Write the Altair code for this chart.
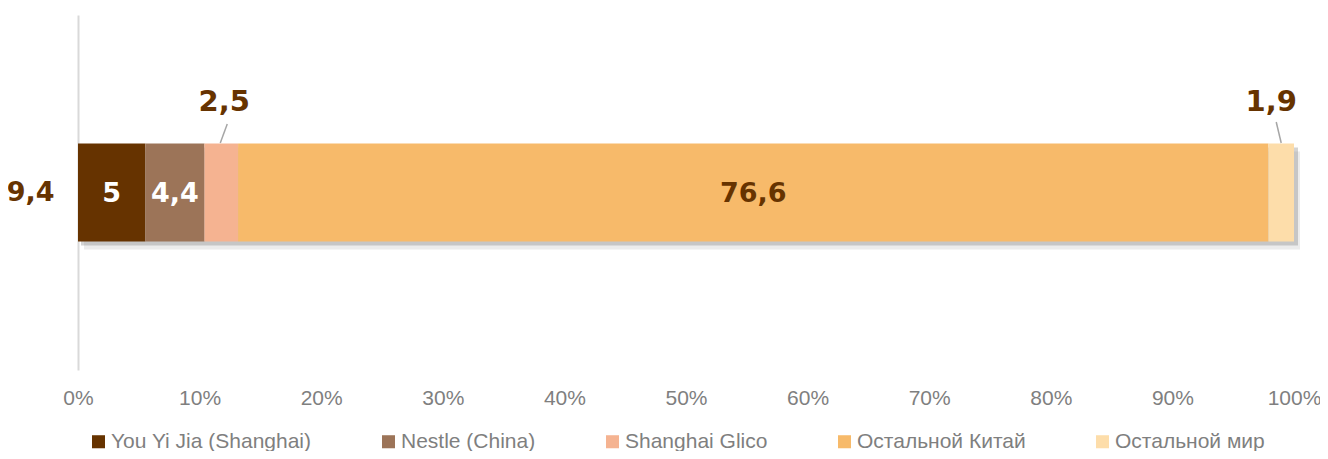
import altair as alt
import pandas as pd

categories = ["You Yi Jia (Shanghai)", "Nestle (China)", "Shanghai Glico", "Остальной Китай", "Остальной мир"]
values = [5.0, 4.4, 2.5, 76.6, 1.9]
labels = ["5", "4,4", "2,5", "76,6", "1,9"]
colors = ["#663300", "#9C7458", "#F5B391", "#F7BA6A", "#FDDDAA"]
row_label = "9,4"

df = pd.DataFrame({
    "cat": categories,
    "value": values,
    "label": labels,
    "order": list(range(len(categories))),
    "row": [row_label] * len(categories),
})

LABEL_FONT = "DejaVu Sans"
AXIS_FONT = "Liberation Sans"
BROWN = "#663300"

base = alt.Chart(df).transform_stack(
    stack="value", groupby=["row"], as_=["x0", "x1"], offset="normalize",
    sort=[alt.SortField("order", order="ascending")]
).transform_calculate(mid="(datum.x0 + datum.x1) / 2")

xscale = alt.Scale(domain=[0, 1], nice=False, zero=True)
yenc = alt.Y("row:N", title=None,
             axis=alt.Axis(domain=True, domainColor="#d9d9d9", domainWidth=2, ticks=False,
                           labelFont=LABEL_FONT, labelFontSize=27, labelFontWeight="bold",
                           labelColor=BROWN, labelPadding=24, grid=False))

agg = base.transform_aggregate(s0="min(x0)", s1="max(x1)", groupby=["row"])
shadow1 = agg.mark_bar(size=98, color="#808080", opacity=0.15, xOffset=6, x2Offset=6, yOffset=8).encode(
    x=alt.X("s0:Q", scale=xscale), x2="s1:Q", y=alt.Y("row:N"))
shadow2 = agg.mark_bar(size=98, color="#808080", opacity=0.35, xOffset=3, x2Offset=4, yOffset=4).encode(
    x=alt.X("s0:Q", scale=xscale), x2="s1:Q", y=alt.Y("row:N"))

bars = base.mark_bar(size=98).encode(
    x=alt.X("x0:Q", scale=xscale, title=None,
            axis=alt.Axis(format="%", values=[i / 10 for i in range(11)], domain=False, ticks=False,
                          grid=False, labelFont=AXIS_FONT, labelFontSize=21, labelColor="#7f7f7f",
                          labelPadding=17, labelFlush=False)),
    x2="x1:Q",
    y=yenc,
    color=alt.Color("cat:N", scale=alt.Scale(domain=categories, range=colors), title=None,
                    legend=alt.Legend(orient="none", legendX=10, legendY=416,
                                      direction="horizontal", symbolType="square",
                                      symbolSize=170, symbolStrokeWidth=0, labelFont=AXIS_FONT,
                                      labelFontSize=21, labelColor="#7f7f7f", columnPadding=66,
                                      labelOffset=2, labelLimit=400)),
)

inner_colors = alt.condition(alt.datum.order < 2, alt.value("white"), alt.value(BROWN))
inner = base.transform_filter("datum.order == 0 || datum.order == 1 || datum.order == 3").mark_text(
    font=LABEL_FONT, fontSize=27, fontWeight="bold", baseline="middle", dy=1).encode(
    x=alt.X("mid:Q", scale=xscale), y=alt.Y("row:N"), text="label:N", color=inner_colors)

above1 = base.transform_filter("datum.order == 2").mark_text(
    font=LABEL_FONT, fontSize=29, fontWeight="bold", baseline="middle", dx=3, dy=-91, color=BROWN).encode(
    x=alt.X("mid:Q", scale=xscale), y=alt.Y("row:N"), text="label:N")
above2 = base.transform_filter("datum.order == 4").mark_text(
    font=LABEL_FONT, fontSize=29, fontWeight="bold", baseline="middle", dx=-10, dy=-91, color=BROWN).encode(
    x=alt.X("mid:Q", scale=xscale), y=alt.Y("row:N"), text="label:N")

lead1 = base.transform_filter("datum.order == 2").mark_rule(
    color="#a6a6a6", strokeWidth=1.5, xOffset=-1, x2Offset=6).encode(
    x=alt.X("mid:Q", scale=xscale), x2="mid:Q", y=alt.value(128), y2=alt.value(109))
lead2 = base.transform_filter("datum.order == 4").mark_rule(
    color="#a6a6a6", strokeWidth=1.5, x2Offset=-5).encode(
    x=alt.X("mid:Q", scale=xscale), x2="mid:Q", y=alt.value(128), y2=alt.value(107))

chart = alt.layer(shadow1, shadow2, bars, inner, lead1, lead2, above1, above2).properties(
    width=1216, height=355,
    autosize=alt.AutoSizeParams(type="none"),
    padding={"left": 70, "top": 7, "right": 26, "bottom": 81},
).configure_view(stroke=None).configure_axisY(labelAngle=0)

chart.save("out.html", embed_options={"renderer": "svg", "actions": False})
